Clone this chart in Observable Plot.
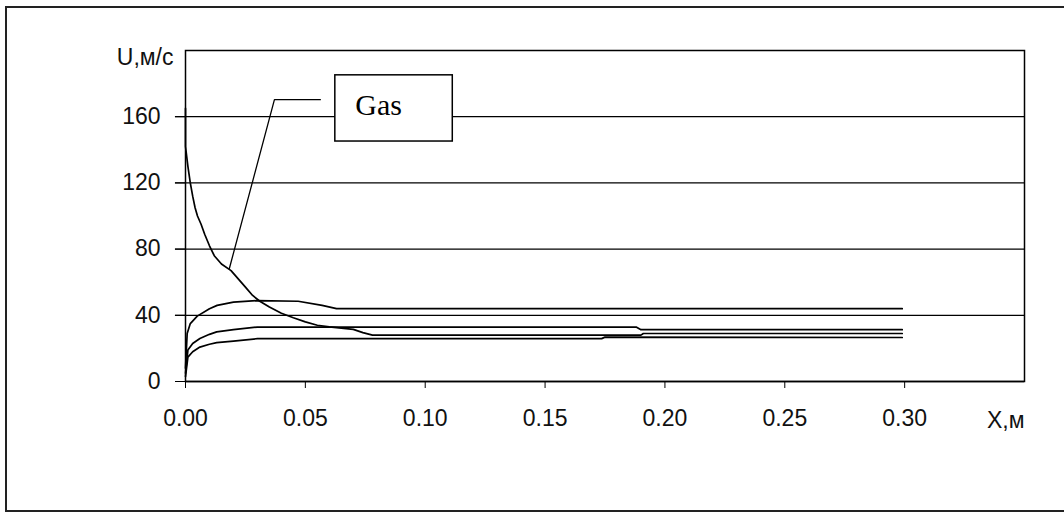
<!DOCTYPE html>
<html>
<head>
<meta charset="utf-8">
<script src="https://cdn.jsdelivr.net/npm/d3@7"></script>
<script src="https://cdn.jsdelivr.net/npm/@observablehq/plot@0.6"></script>
<style>
  html, body { margin: 0; padding: 0; background: #fff; }
  #wrap { position: relative; width: 1064px; height: 515px; overflow: hidden; }
  #border { position: absolute; left: 5px; top: 6px; width: 1070px; height: 506px; border: 2px solid #222; box-sizing: border-box; pointer-events: none; }
  svg { font-family: "Liberation Sans", Arial, sans-serif; }
</style>
</head>
<body>
<div id="wrap"><div id="border"></div></div>
<script>
// Gas velocity (x in m, U in m/s)
const gasX = [0, 0, 0.001, 0.002, 0.003, 0.004, 0.005, 0.0065, 0.008, 0.010, 0.012, 0.015, 0.019, 0.022, 0.025, 0.028, 0.031, 0.035, 0.040, 0.045, 0.050, 0.055, 0.060, 0.065, 0.070, 0.074, 0.078, 0.190, 0.191, 0.299];
const gasU = [165, 142, 130, 120, 112, 105, 100, 95, 89, 82, 76, 71, 67, 62, 57, 52, 48.5, 45, 41.2, 38.5, 36, 34, 33, 32.3, 31.5, 29.5, 28, 28, 29, 29];
// Particle velocities (three fractions)
const p1X = [0, 0.0007, 0.002, 0.0049, 0.010, 0.0132, 0.020, 0.030, 0.047, 0.057, 0.063, 0.299];
const p1U = [8, 29, 35, 39.5, 44, 46, 48, 48.9, 48.5, 46, 44, 44];
const p2X = [0, 0.001, 0.003, 0.006, 0.010, 0.013, 0.020, 0.030, 0.188, 0.190, 0.299];
const p2U = [5, 19, 23, 26, 28.5, 30, 31.3, 32.9, 32.9, 31.3, 31.3];
const p3X = [0, 0.001, 0.003, 0.006, 0.010, 0.013, 0.020, 0.030, 0.1736, 0.175, 0.299];
const p3U = [3, 14.7, 18, 20.8, 22.5, 23.5, 24.4, 25.9, 25.9, 26.8, 26.6];

const xTicks = [0, 0.05, 0.10, 0.15, 0.20, 0.25, 0.30];
const yTicks = [0, 40, 80, 120, 160];
const gridU = [40, 80, 120, 160];
const yLabel = "U,м/с";
const xLabel = "X,м";
const gasLabel = "Gas";
// annotation (data coordinates)
const leaderX = [0.05625, 0.0371, 0.0183];
const leaderU = [170.3, 170.3, 68.3];
const boxX = [0.0625, 0.1115];
const boxU = [145, 185];

const series = [[gasX, gasU, "gas"], [p1X, p1U, "p1"], [p2X, p2U, "p2"], [p3X, p3U, "p3"]]
  .flatMap(([xs, us, k]) => xs.map((x, i) => ({x, u: us[i], k})));
const leader = leaderX.map((x, i) => ({x, u: leaderU[i]}));

const chart = Plot.plot({
  width: 1064,
  height: 515,
  marginLeft: 185,
  marginRight: 40,
  marginTop: 50,
  marginBottom: 134,
  style: {background: "transparent", fontSize: "23px", color: "#111"},
  x: {domain: [0, 0.35]},
  y: {domain: [0, 200]},
  marks: [
    Plot.ruleY(gridU, {x1: -0.0042, x2: 0.35, stroke: "#000", strokeWidth: 1.2}),
    Plot.frame({stroke: "#000", strokeWidth: 1.5}),
    Plot.line(series, {x: "x", y: "u", z: "k", stroke: "#000", strokeWidth: 1.7, curve: "linear"}),
    Plot.line(leader, {x: "x", y: "u", stroke: "#000", strokeWidth: 1.3}),
    Plot.rect([{}], {x1: boxX[0], x2: boxX[1], y1: boxU[0], y2: boxU[1], fill: "#fff", stroke: "#000", strokeWidth: 1.5}),
    Plot.text([gasLabel], {x: boxX[0], y: (boxU[0] + boxU[1]) / 2, text: d => d, textAnchor: "start", dx: 20, dy: -3, fontFamily: "Liberation Serif, Times New Roman, serif", fontSize: 30, fill: "#000"}),
    Plot.axisX({ticks: xTicks, tickFormat: d3.format(".2f"), tickSize: 7, tickPadding: 21, label: null, fontSize: 23, stroke: "#000"}),
    Plot.axisY({ticks: yTicks, tickSize: 10, tickPadding: 15, label: null, fontSize: 23, stroke: "#000"}),
    Plot.ruleY([0], {stroke: "#000", strokeWidth: 1.5}),
    Plot.text([yLabel], {frameAnchor: "top-left", dx: -12, dy: -2, text: d => d, textAnchor: "end", fontSize: 23, fill: "#111"}),
    Plot.text([xLabel], {x: 0.35, y: 0, text: d => d, textAnchor: "end", dy: 39, fontSize: 23, fill: "#111"})
  ]
});
document.getElementById("wrap").prepend(chart);
</script>
</body>
</html>
